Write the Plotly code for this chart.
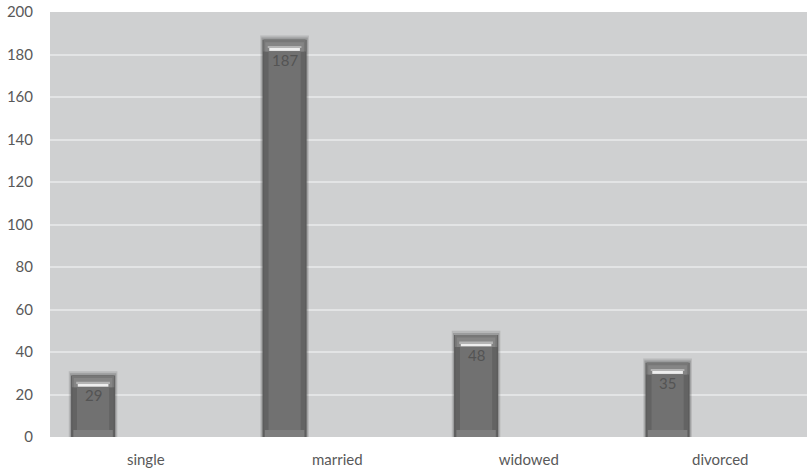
import plotly.graph_objects as go

# Marital status counts
categories = ["single", "married", "widowed", "divorced"]
counts = [29, 187, 48, 35]
y_ticks = [0, 20, 40, 60, 80, 100, 120, 140, 160, 180, 200]

xs = list(range(len(categories)))
n = len(counts)
bar_w = 0.23
bar_off = -0.39
side = 0.031      # side bevel width (x units)
top_b = 5.6       # top bevel height (y units)
bot_b = 3.3       # bottom bevel height (y units)


def layer(y, base, inset, color, hover=False):
    """One slice of the bevelled bar, inset horizontally from the bar edges."""
    return go.Bar(
        x=xs, y=y, base=base, width=bar_w - 2 * inset, offset=bar_off + inset,
        marker=dict(color=color, line=dict(width=0)),
        hoverinfo=None if hover else "skip", showlegend=False)


fig = go.Figure()

# soft shadow around the top of each bar
fig.add_trace(layer([c + 2.0 for c in counts], [0] * n, -0.012, "rgba(60,60,60,0.16)"))
fig.add_trace(layer([c + 1.0 for c in counts], [0] * n, -0.006, "rgba(60,60,60,0.22)"))

# outer body (side bevels)
fig.add_trace(layer(counts, [0] * n, 0.0, "#5d5d5d", hover=True))
fig.add_trace(layer(counts, [0] * n, 0.008, "#636363"))

# top bevel
fig.add_trace(layer([top_b] * n, [c - top_b for c in counts], 0.004, "#777777"))
fig.add_trace(layer([top_b - 1.2] * n, [c - top_b for c in counts], 0.014, "#858585"))

# bottom bevel
fig.add_trace(layer([bot_b] * n, [0] * n, 0.012, "#7e7e7e"))

# flat front face
fig.add_trace(layer([c - top_b - bot_b for c in counts], [bot_b] * n, side, "#717171"))

# highlight strip under the top bevel
fig.add_trace(layer([1.5] * n, [c - top_b + 0.3 for c in counts], side + 0.004, "#eeeeee"))
fig.add_trace(layer([0.8] * n, [c - top_b + 1.8 for c in counts], side - 0.004, "#b4b4b4"))

# value labels inside the bars
for x, c in zip(xs, counts):
    fig.add_annotation(
        x=x + bar_off + bar_w / 2, y=c, yshift=-20, text=str(c), showarrow=False,
        font=dict(family="Lato, sans-serif", size=15, color="#545454"))

fig.update_layout(
    width=807, height=471,
    margin=dict(l=50, r=0, t=12, b=34),
    paper_bgcolor="white",
    plot_bgcolor="#cfd0d1",
    barmode="overlay",
    font=dict(family="Lato, sans-serif", size=15, color="#595959"),
    xaxis=dict(
        tickmode="array", tickvals=xs, ticktext=categories,
        range=[-0.5, 3.453], showgrid=False, zeroline=False,
        ticks="", ticklabelstandoff=12, fixedrange=True),
    yaxis=dict(
        tickmode="array", tickvals=y_ticks, range=[0, 200],
        showgrid=True, gridcolor="#e3e4e5", gridwidth=1.5,
        zeroline=False, ticks="", ticklabelstandoff=16, fixedrange=True),
)

fig.write_html("out.html")
